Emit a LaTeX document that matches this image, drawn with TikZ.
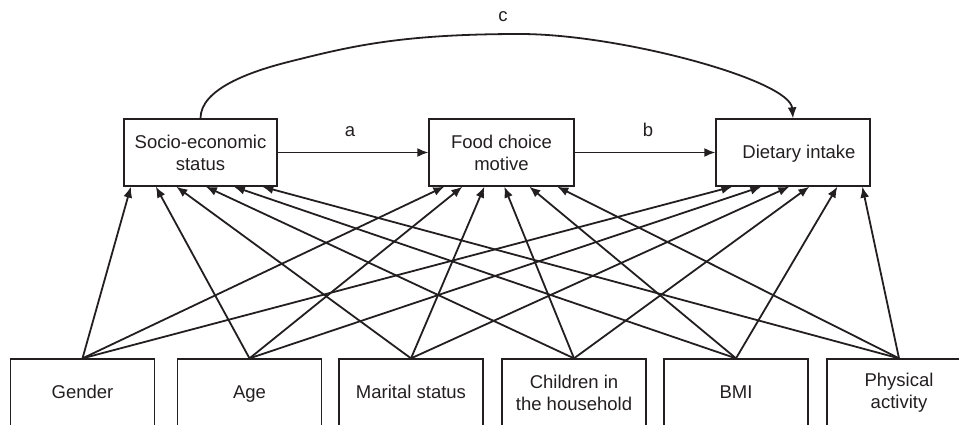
\documentclass[tikz,border=0pt]{standalone}
\usepackage{fontspec}
\setmainfont{Liberation Sans}
\usetikzlibrary{arrows.meta,calc}
\definecolor{ink}{HTML}{231F20}
\begin{document}
\begin{tikzpicture}[x=1pt,y=-1pt,
  every node/.style={font=\fontsize{18.5}{22}\selectfont, text=ink},
  topbox/.style={draw=ink, line width=1.3pt, minimum height=67pt, inner sep=0pt, align=center},
  botbox/.style={draw=ink, line width=1.3pt, minimum width=144pt, minimum height=67pt, inner sep=0pt, align=center},
  oneline/.style={text height=14pt, text depth=1.5pt},
  arr/.style={draw=ink, line width=1.8pt, -{Latex[length=11pt,width=9pt]}},
  lbl/.style={anchor=base, inner sep=0pt}]
\useasboundingbox (0,0) rectangle (959,424);
\clip (0,0) rectangle (959,424);
% top boxes
\node[topbox, minimum width=153pt] (ses) at (200.5,152.5) {Socio-economic\\status};
\node[topbox, minimum width=145pt] (food) at (501.5,152.5) {Food choice\\motive};
\node[topbox, oneline, minimum width=154pt] (diet) at (793,152.5) {\hspace*{12pt}Dietary intake};
% bottom boxes
\node[botbox, oneline] (gen) at (82.5,392.5) {Gender};
\node[botbox, oneline] (age) at (249.5,392.5) {Age};
\node[botbox, oneline] (mar) at (411,392.5) {Marital status};
\node[botbox] (chi) at (574,392.5) {Children in\\the household};
\node[botbox, oneline] (bmi) at (736,392.5) {BMI};
\node[botbox] (phy) at (899,392.5) {Physical\\activity};
% labels
\node[lbl] (la) at (350,136) {a};
\node[lbl] (lb) at (648,136) {b};
\node[lbl] (lc) at (503,21) {c};
% main arrows
\draw[arr] (ses.east) -- (food.west);
\draw[arr] (food.east) -- (diet.west);
\draw[arr] (ses.north) .. controls (200.5,89) and (250,71.5) .. (290,61.5)
  .. controls (350,46.5) and (400,34) .. (520,34)
  .. controls (620,34) and (790,80) .. (diet.north);
% targets on the bottom edges of the top boxes
\foreach \n/\o in {1/7.5,2/32.5,3/53,4/82.5,5/110.5,6/139}
  \coordinate (s\n) at ($(ses.south west)+(\o,0)$);
\foreach \n/\o in {1/16,2/34,3/56,4/76,5/101,6/129}
  \coordinate (f\n) at ($(food.south west)+(\o,0)$);
\foreach \n/\o in {1/17,2/46,3/74,4/94,5/122,6/147}
  \coordinate (d\n) at ($(diet.south west)+(\o,0)$);
% predictor arrows
\foreach \src/\n in {gen/1,age/2,mar/3,chi/4,bmi/5,phy/6}{
  \draw[arr] (\src.north) -- (s\n);
  \draw[arr] (\src.north) -- (f\n);
  \draw[arr] (\src.north) -- (d\n);
}
\end{tikzpicture}
\end{document}
